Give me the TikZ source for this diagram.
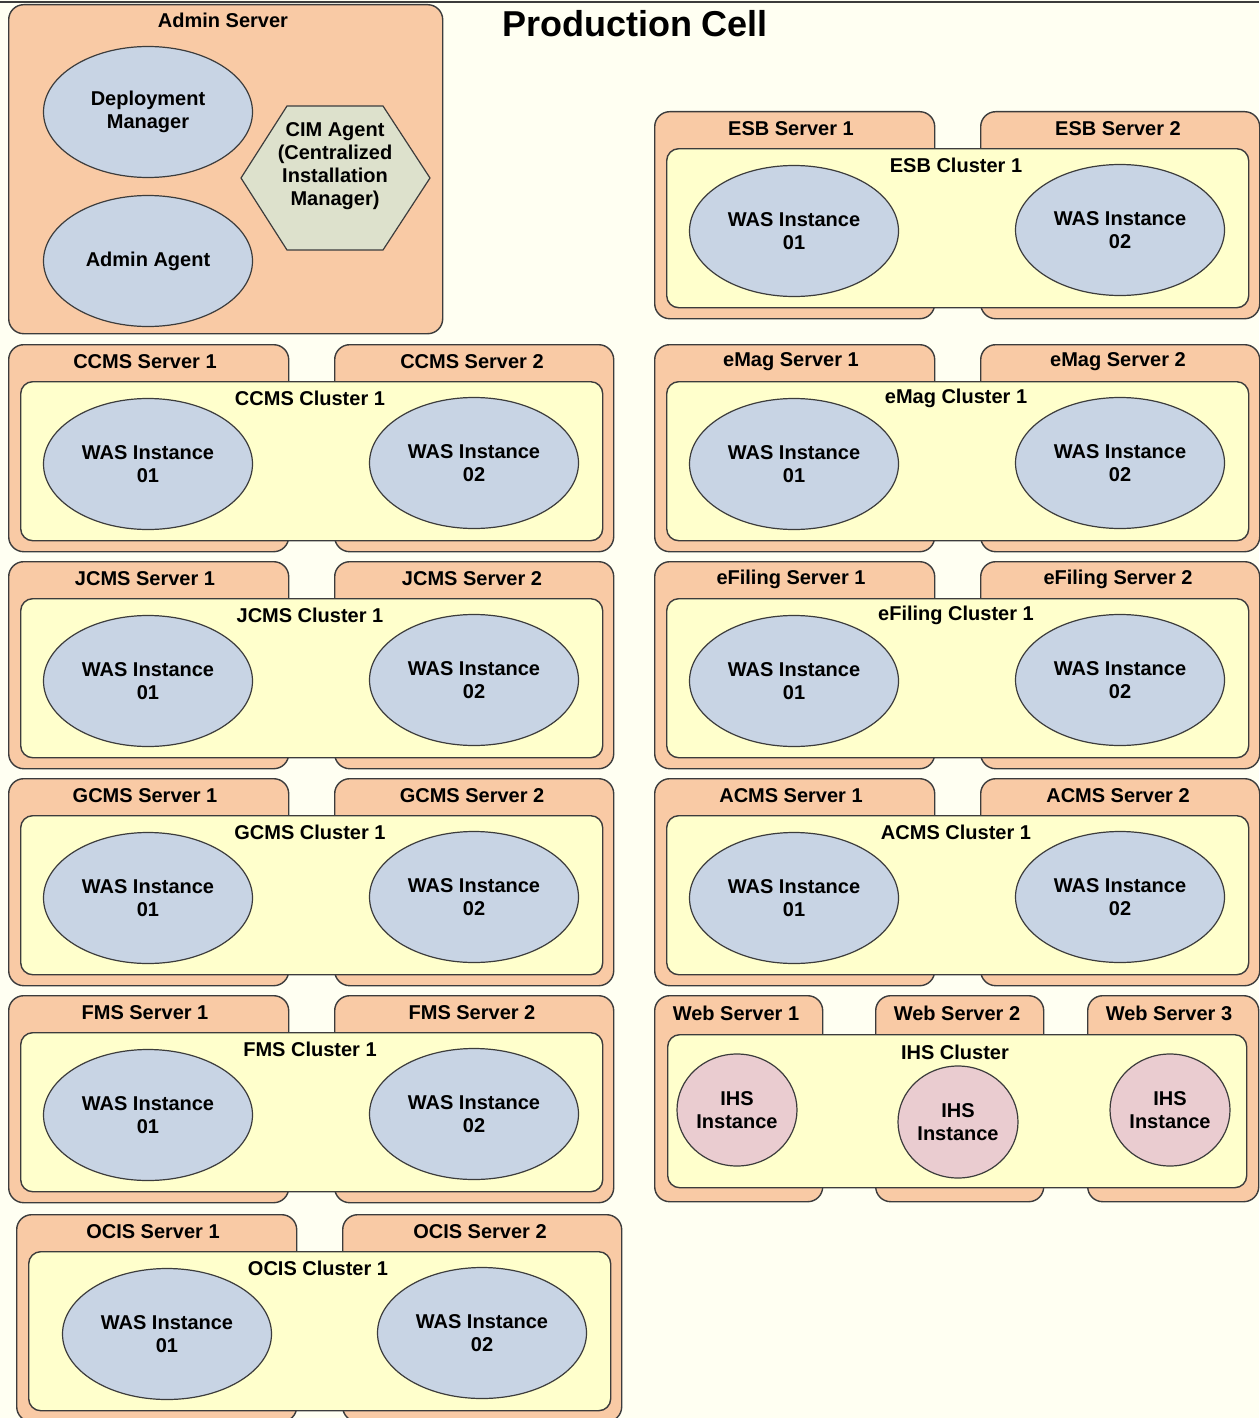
\documentclass[tikz,border=0pt]{standalone}
\usepackage{fontspec}
\setmainfont{Liberation Sans}
\usetikzlibrary{shapes.geometric}
\definecolor{fond}{RGB}{255,255,242}
\definecolor{saumon}{RGB}{249,202,165}
\definecolor{jaune}{RGB}{255,255,204}
\definecolor{bleu}{RGB}{200,212,228}
\definecolor{olive}{RGB}{221,225,204}
\definecolor{rose}{RGB}{234,204,208}
\definecolor{trait}{RGB}{60,60,60}
\newcommand{\etiqfont}{\fontsize{20}{23}\selectfont\bfseries}
\begin{document}
\begin{tikzpicture}[x=1pt,y=-1pt]
  \tikzstyle{serveur}=[draw=trait, fill=saumon, rounded corners=15pt,
  line width=1.4pt, anchor=north west, inner sep=0pt, minimum height=207pt]
  \tikzstyle{grappe}=[draw=trait, fill=jaune, rounded corners=12pt,
  line width=1.4pt, anchor=north west, inner sep=0pt]
  \tikzstyle{instance}=[ellipse, draw=trait, fill=bleu, line width=1.2pt,
  minimum width=209pt, minimum height=131pt, inner sep=0pt, align=center,
  font=\etiqfont]
  \tikzstyle{ihs}=[instance, fill=rose, minimum width=120pt, minimum height=112pt]
  \tikzstyle{etiq}=[font=\etiqfont, inner sep=0pt, align=center]
  \fill[fond] (0,0) rectangle (1259,1418);
  \useasboundingbox (0,0) rectangle (1259,1418);
  \draw[trait, line width=2pt] (0,2) -- (1259,2);
  \node[font=\fontsize{36}{40}\selectfont\bfseries] (titre) at (635,24) {Production Cell};
  % admin server
  \node[serveur, minimum width=434pt, minimum height=329pt] (admin) at (8,4) {};
  \node[etiq] (admin-t) at (223,20) {Admin Server};
  \node[instance] (dm) at (148,112) {Deployment\\Manager};
  \node[instance] (aa) at (148,261) {Admin Agent};
  \draw[draw=trait, fill=olive, line width=1.2pt] (241,178) -- (287,106) -- (383,106)
    -- (430,178) -- (383,250) -- (287,250) -- cycle;
  \node[etiq] (cim) at (335,166) {CIM Agent\\(Centralized\\Installation\\Manager)};
  % clusters of two servers
  \foreach \g/\n/\ox/\oy/\ex in {ccms/CCMS/8/344/140, jcms/JCMS/8/561/140,
    gcms/GCMS/8/778/140, fms/FMS/8/995/140, ocis/OCIS/16/1214/151,
    esb/ESB/654/111/140, emag/eMag/654/344/140, efil/eFiling/654/561/140,
    acms/ACMS/654/778/140} {
    \node[serveur, minimum width=280pt] (\g-s1) at (\ox,\oy) {};
    \node[serveur, minimum width=279pt] (\g-s2) at (\ox+326,\oy) {};
    \node[grappe, minimum width=582pt, minimum height=159pt] (\g-c) at (\ox+12,\oy+37) {};
    \node[etiq] (\g-t1) at (\ox+137,\oy+18) {\n\ Server 1};
    \node[etiq] (\g-t2) at (\ox+464,\oy+18) {\n\ Server 2};
    \node[etiq] (\g-tc) at (\ox+302,\oy+54) {\n\ Cluster 1};
    \node[instance] (\g-i1) at (\ox+\ex,\oy+120) {WAS Instance\\01};
    \node[instance] (\g-i2) at (\ox+466,\oy+119) {WAS Instance\\02};
  }
  % web servers
  \foreach \k/\x/\w/\tx in {1/654/168/736, 2/875/168/957, 3/1087/171/1169} {
    \node[serveur, minimum width=\w, minimum height=206pt] (web-s\k) at (\x,995) {};
    \node[etiq] (web-t\k) at (\tx,1013) {Web Server \k};
  }
  \node[grappe, minimum width=579pt, minimum height=153pt] (ihs-c) at (667,1034) {};
  \node[etiq] (ihs-tc) at (955,1052) {IHS Cluster};
  \foreach \k/\x/\y in {1/737/1110, 2/958/1122, 3/1170/1110} {
    \node[ihs] (ihs-\k) at (\x,\y) {IHS\\Instance};
  }
\end{tikzpicture}
\end{document}
